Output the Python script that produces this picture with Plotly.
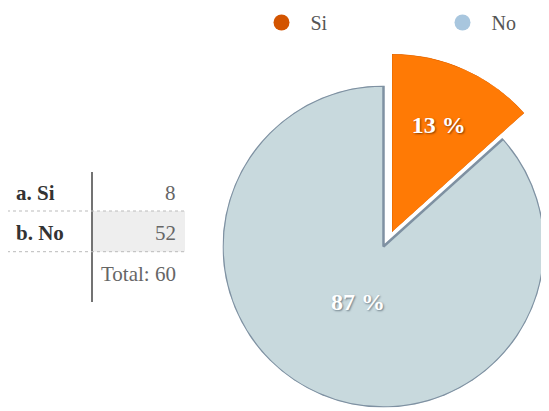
import plotly.graph_objects as go

# the page puts the figure 8px in from the top-left corner
W, H = 541, 403
OFF = 8

# data
labels = ["Si", "No"]
counts = [8, 52]
row_tags = ["a. Si", "b. No"]
total = sum(counts)
pct_text = [f"{round(c / total * 100)} %" for c in counts]

slice_colors = ["#ff7a05", "#c8d9dd"]
legend_colors = ["#d35400", "#a8c6de"]
serif = "Liberation Serif"


def px(x):
    return (x - OFF) / W


def py(y):
    return 1 - (y - OFF) / H


# slice angles (clockwise from 12 o'clock)
widths = [360 * c / total for c in counts]
mids = []
acc = 0
for w in widths:
    mids.append(acc + w / 2)
    acc += w

fig = go.Figure()

# "No" slice
fig.add_trace(go.Barpolar(
    r=[1], theta=[mids[1]], width=[widths[1]], subplot="polar2",
    marker=dict(color=slice_colors[1], line=dict(color="#7f91a2", width=2.5)),
    showlegend=False, hoverinfo="skip",
))
fig.add_trace(go.Scatterpolar(
    r=[0.39], theta=[mids[1]], mode="text", text=[pct_text[1]], subplot="polar2",
    textfont=dict(family=serif, size=24, color="white", weight="bold",
                  shadow="1px 1px 2px #6b7b86"),
    showlegend=False, hoverinfo="skip",
))

# exploded "Si" wedge, bigger, in its own sector subplot
fig.add_trace(go.Barpolar(
    r=[1], theta=[mids[0]], width=[widths[0]], subplot="polar",
    marker=dict(color=slice_colors[0], line=dict(color="#e06400", width=1)),
    showlegend=False, hoverinfo="skip",
))
fig.add_trace(go.Scatterpolar(
    r=[0.646], theta=[mids[0]], mode="text", text=[pct_text[0]], subplot="polar",
    textfont=dict(family=serif, size=24, color="white", weight="bold",
                  shadow="1px 1px 2px #8a3c00"),
    showlegend=False, hoverinfo="skip",
))

# legend entries
for name, col in zip(labels, legend_colors):
    fig.add_trace(go.Scatterpolar(
        r=[None], theta=[None], mode="markers", name=name, subplot="polar",
        marker=dict(size=20, color=col),
    ))

hidden_r = dict(visible=False, range=[0, 1])
hidden_a = dict(visible=False, rotation=90, direction="clockwise")
fig.update_layout(
    polar=dict(
        domain=dict(x=[px(392), px(524.3)], y=[py(232), py(54)]),
        sector=[90 - widths[0], 90],
        bgcolor="rgba(0,0,0,0)", radialaxis=hidden_r, angularaxis=hidden_a,
    ),
    polar2=dict(
        domain=dict(x=[px(222.5), px(544.5)], y=[py(407.5), py(85.5)]),
        bgcolor="rgba(0,0,0,0)", radialaxis=hidden_r, angularaxis=hidden_a,
    ),
    bargap=0,
)

# table on the left
shapes = [
    dict(type="rect", xref="paper", yref="paper", x0=px(92.7), x1=px(185),
         y0=py(251.7), y1=py(211), fillcolor="#eeeeee", line_width=0, layer="below"),
    dict(type="line", xref="paper", yref="paper", x0=px(92), x1=px(92),
         y0=py(172), y1=py(302), line=dict(color="#444444", width=1.5)),
]
for yy in [211, 251.7]:
    shapes.append(dict(type="line", xref="paper", yref="paper", x0=px(7), x1=px(186),
                       y0=py(yy), y1=py(yy),
                       line=dict(color="#bbbbbb", width=1, dash="dot")))

annotations = []
row_y = [193, 232.5]
for tag, c, yy in zip(row_tags, counts, row_y):
    annotations.append(dict(x=px(14), y=py(yy), xref="paper", yref="paper", text=f"<b>{tag}</b>",
                            showarrow=False, xanchor="left", yanchor="middle",
                            font=dict(family=serif, size=21, color="#333333")))
    annotations.append(dict(x=px(178), y=py(yy), xref="paper", yref="paper", text=str(c),
                            showarrow=False, xanchor="right", yanchor="middle",
                            font=dict(family=serif, size=21, color="#666666")))
annotations.append(dict(x=px(178), y=py(273.5), xref="paper", yref="paper",
                        text=f"Total: {total}", showarrow=False, xanchor="right",
                        yanchor="middle", font=dict(family=serif, size=21, color="#666666")))

fig.update_layout(
    width=W, height=H,
    margin=dict(l=0, r=0, t=0, b=0, autoexpand=False),
    paper_bgcolor="white", plot_bgcolor="white",
    shapes=shapes, annotations=annotations,
    legend=dict(orientation="h", x=px(252.5), y=py(3), xanchor="left", yanchor="top",
                itemwidth=48, entrywidth=118, entrywidthmode="pixels",
                font=dict(family=serif, size=20, color="#555555"),
                bgcolor="rgba(0,0,0,0)"),
)

fig.write_html("out.html")
